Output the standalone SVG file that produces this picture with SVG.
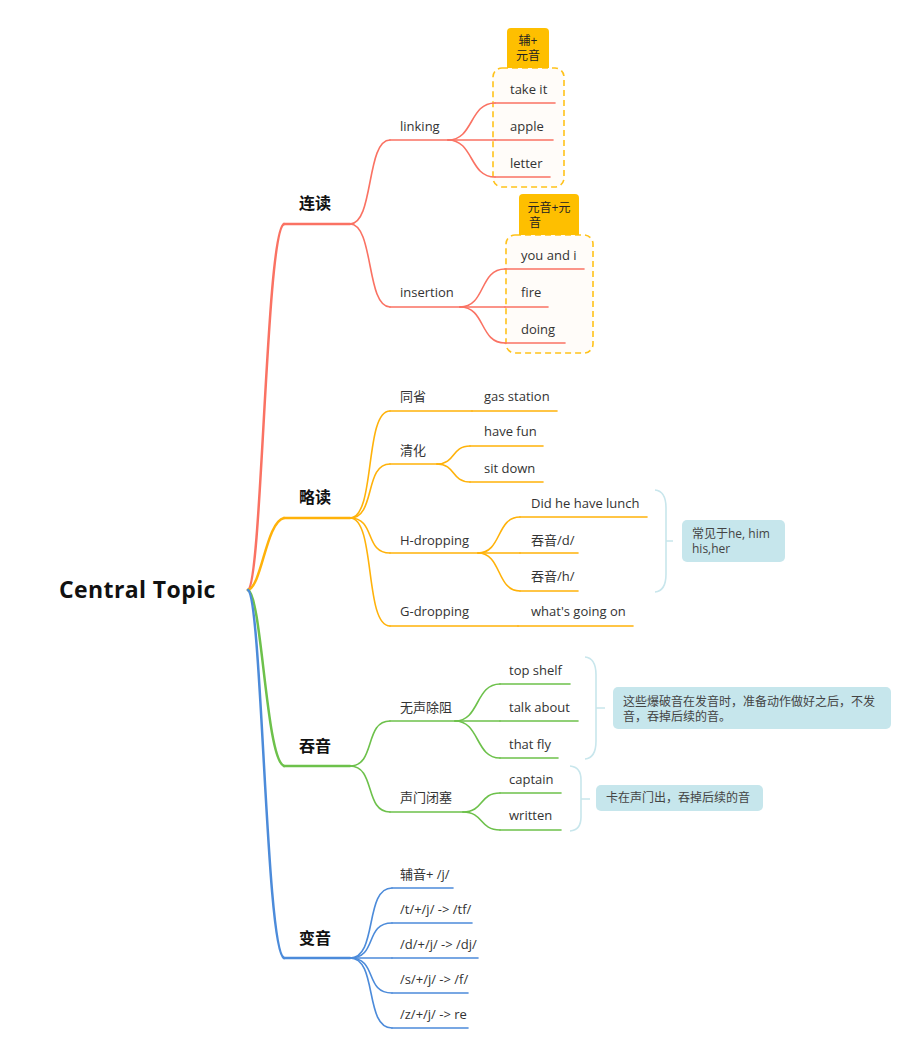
<svg xmlns="http://www.w3.org/2000/svg" width="900" height="1061" viewBox="0 0 900 1061">
<style>
text{font-family:"Open Sans","Noto Sans CJK SC",sans-serif;fill:#333;}
.c{font-size:23px;font-weight:700;fill:#111;letter-spacing:0.4px}
.m{font-size:16px;font-weight:600;fill:#111}
.s{font-size:13px}
.n{font-size:12px;fill:#444}
.t{font-size:12px;fill:#222;text-anchor:middle}
.ln{fill:none;stroke-linecap:round}
.r{stroke:#FA7263}
.o{stroke:#FFB20A}
.g{stroke:#6DC14B}
.b{stroke:#4C8BDA}
.w3{stroke-width:2.5}
.w2{stroke-width:1.6}
.box{fill:#FFFCF9;stroke:#FFC21A;stroke-width:1.6;stroke-dasharray:6 4}
.tag{fill:#FEBF00}
.br{fill:none;stroke:#C8E6EC;stroke-width:1.6}
.note{fill:#C6E6EC}
</style>
<g id="summaries">
<rect class="box" x="493" y="68" width="71" height="119" rx="9"/>
<path class="tag" d="M507,68 V32 Q507,28 511,28 H545 Q549,28 549,32 V68 Z"/>
<text class="t" x="528" y="45">辅+</text>
<text class="t" x="528" y="60">元音</text>
<rect class="box" x="506" y="235" width="87" height="118" rx="9"/>
<path class="tag" d="M519,235 V198 Q519,194 523,194 H575 Q579,194 579,198 V235 Z"/>
<text class="t" x="549" y="212">元音+元</text>
<text class="t" x="535" y="227">音</text>
</g>
<g id="connectors">
<path class="ln r w3" d="M248,590 C262,584 266,230 284,224"/>
<path class="ln o w3" d="M248,590 C262,586 266,522 284,518"/>
<path class="ln g w3" d="M248,590 C262,596 266,760 284,766"/>
<path class="ln b w3" d="M248,590 C262,598 266,952 284,958"/>
<path class="ln r w2" d="M350,224 C374,224 366,140 390,140"/>
<path class="ln r w2" d="M350,224 C374,224 366,307 390,307"/>
<path class="ln r w2" d="M448,140 C474,140 469,103 495,103"/>
<path class="ln r w2" d="M448,140 L495,140"/>
<path class="ln r w2" d="M448,140 C474,140 469,177 495,177"/>
<path class="ln r w2" d="M460,307 C486,307 479,269 505,269"/>
<path class="ln r w2" d="M460,307 L505,307"/>
<path class="ln r w2" d="M460,307 C486,307 479,343 505,343"/>
<path class="ln o w2" d="M350,518 C376,518 364,411 390,411"/>
<path class="ln o w2" d="M350,518 C376,518 364,464 390,464"/>
<path class="ln o w2" d="M350,518 C376,518 364,553 390,553"/>
<path class="ln o w2" d="M350,518 C376,518 364,626 390,626"/>
<path class="ln o w2" d="M437,464 C456,464 451,446 470,446"/>
<path class="ln o w2" d="M437,464 C456,464 451,482 470,482"/>
<path class="ln o w2" d="M478,553 C502,553 496,517 520,517"/>
<path class="ln o w2" d="M478,553 L520,553"/>
<path class="ln o w2" d="M478,553 C502,553 496,591 520,591"/>
<path class="ln g w2" d="M350,766 C376,766 364,721 390,721"/>
<path class="ln g w2" d="M350,766 C376,766 364,812 390,812"/>
<path class="ln g w2" d="M455,721 C480,721 475,684 500,684"/>
<path class="ln g w2" d="M455,721 L500,721"/>
<path class="ln g w2" d="M455,721 C480,721 475,758 500,758"/>
<path class="ln g w2" d="M463,812 C484,812 479,793 500,793"/>
<path class="ln g w2" d="M463,812 C484,812 479,830 500,830"/>
<path class="ln b w2" d="M350,958 C378,958 364,888 392,888"/>
<path class="ln b w2" d="M350,958 C378,958 364,923 392,923"/>
<path class="ln b w2" d="M350,958 L392,958"/>
<path class="ln b w2" d="M350,958 C378,958 364,993 392,993"/>
<path class="ln b w2" d="M350,958 C378,958 364,1028 392,1028"/>
</g>
<g id="central"><text class="c" x="59" y="598">Central Topic</text></g>
<g id="lianDu"><path class="ln r w3" d="M284,224 H350"/><text class="m" x="299" y="209">连读</text></g>
<g id="linking"><path class="ln r w2" d="M390,140 H448"/><text class="s" x="400" y="131">linking</text></g>
<g id="takeIt"><path class="ln r w2" d="M495,103 H555"/><text class="s" x="510" y="94">take it</text></g>
<g id="apple"><path class="ln r w2" d="M495,140 H553"/><text class="s" x="510" y="131">apple</text></g>
<g id="letter"><path class="ln r w2" d="M495,177 H550"/><text class="s" x="510" y="168">letter</text></g>
<g id="insertion"><path class="ln r w2" d="M390,307 H460"/><text class="s" x="400" y="297">insertion</text></g>
<g id="youAndI"><path class="ln r w2" d="M505,269 H584"/><text class="s" x="521" y="260">you and i</text></g>
<g id="fire"><path class="ln r w2" d="M505,307 H548"/><text class="s" x="521" y="297">fire</text></g>
<g id="doing"><path class="ln r w2" d="M505,343 H565"/><text class="s" x="521" y="334">doing</text></g>
<g id="lueDu"><path class="ln o w3" d="M284,518 H350"/><text class="m" x="299" y="503">略读</text></g>
<g id="tongSheng"><path class="ln o w2" d="M390,411 H472"/><text class="s" x="400" y="401">同省</text></g>
<g id="gasStation"><path class="ln o w2" d="M472,411 H557"/><text class="s" x="484" y="401">gas station</text></g>
<g id="qingHua"><path class="ln o w2" d="M390,464 H437"/><text class="s" x="400" y="455">清化</text></g>
<g id="haveFun"><path class="ln o w2" d="M470,446 H543"/><text class="s" x="484" y="436">have fun</text></g>
<g id="sitDown"><path class="ln o w2" d="M470,482 H543"/><text class="s" x="484" y="473">sit down</text></g>
<g id="hDropping"><path class="ln o w2" d="M390,553 H478"/><text class="s" x="400" y="545">H-dropping</text></g>
<g id="didHe"><path class="ln o w2" d="M520,517 H647"/><text class="s" x="531" y="508">Did he have lunch</text></g>
<g id="tunD"><path class="ln o w2" d="M520,553 H578"/><text class="s" x="531" y="545">吞音/d/</text></g>
<g id="tunH"><path class="ln o w2" d="M520,591 H578"/><text class="s" x="531" y="581">吞音/h/</text></g>
<g id="gDropping"><path class="ln o w2" d="M390,626 H518"/><text class="s" x="400" y="616">G-dropping</text></g>
<g id="whatsGoingOn"><path class="ln o w2" d="M518,626 H633"/><text class="s" x="531" y="616">what's going on</text></g>
<g id="hNote">
<path class="br" d="M655,490 Q666,491 666,508 V574 Q666,591 655,592 M666,541 H673"/>
<rect class="note" x="682" y="520" width="103" height="42" rx="5"/>
<text class="n" x="692" y="538">常见于he, him</text>
<text class="n" x="692" y="553">his,her</text>
</g>
<g id="tunYin"><path class="ln g w3" d="M284,766 H350"/><text class="m" x="299" y="752">吞音</text></g>
<g id="wuSheng"><path class="ln g w2" d="M390,721 H455"/><text class="s" x="400" y="712">无声除阻</text></g>
<g id="topShelf"><path class="ln g w2" d="M500,684 H570"/><text class="s" x="509" y="675">top shelf</text></g>
<g id="talkAbout"><path class="ln g w2" d="M500,721 H578"/><text class="s" x="509" y="712">talk about</text></g>
<g id="thatFly"><path class="ln g w2" d="M500,758 H558"/><text class="s" x="509" y="749">that fly</text></g>
<g id="wuNote">
<path class="br" d="M585,657 Q596,658 596,675 V741 Q596,758 585,759 M596,708 H605"/>
<rect class="note" x="613" y="687" width="278" height="42" rx="5"/>
<text class="n" x="623" y="706">这些爆破音在发音时，准备动作做好之后，不发</text>
<text class="n" x="623" y="721">音，吞掉后续的音。</text>
</g>
<g id="shengMen"><path class="ln g w2" d="M390,812 H463"/><text class="s" x="400" y="802">声门闭塞</text></g>
<g id="captain"><path class="ln g w2" d="M500,793 H561"/><text class="s" x="509" y="784">captain</text></g>
<g id="written"><path class="ln g w2" d="M500,830 H561"/><text class="s" x="509" y="820">written</text></g>
<g id="smNote">
<path class="br" d="M570,766 Q581,767 581,780 V817 Q581,830 570,831 M581,799 H590"/>
<rect class="note" x="596" y="785" width="167" height="26" rx="5"/>
<text class="n" x="606" y="802">卡在声门出，吞掉后续的音</text>
</g>
<g id="bianYin"><path class="ln b w3" d="M284,958 H350"/><text class="m" x="299" y="944">变音</text></g>
<g id="fuYinJ"><path class="ln b w2" d="M392,888 H453"/><text class="s" x="400" y="879">辅音+ /j/</text></g>
<g id="tj"><path class="ln b w2" d="M392,923 H472"/><text class="s" x="400" y="914">/t/+/j/ -&gt; /tf/</text></g>
<g id="dj"><path class="ln b w2" d="M392,958 H478"/><text class="s" x="400" y="949">/d/+/j/ -&gt; /dj/</text></g>
<g id="sj"><path class="ln b w2" d="M392,993 H468"/><text class="s" x="400" y="984">/s/+/j/ -&gt; /f/</text></g>
<g id="zj"><path class="ln b w2" d="M392,1028 H468"/><text class="s" x="400" y="1019">/z/+/j/ -&gt; re</text></g>
</svg>
